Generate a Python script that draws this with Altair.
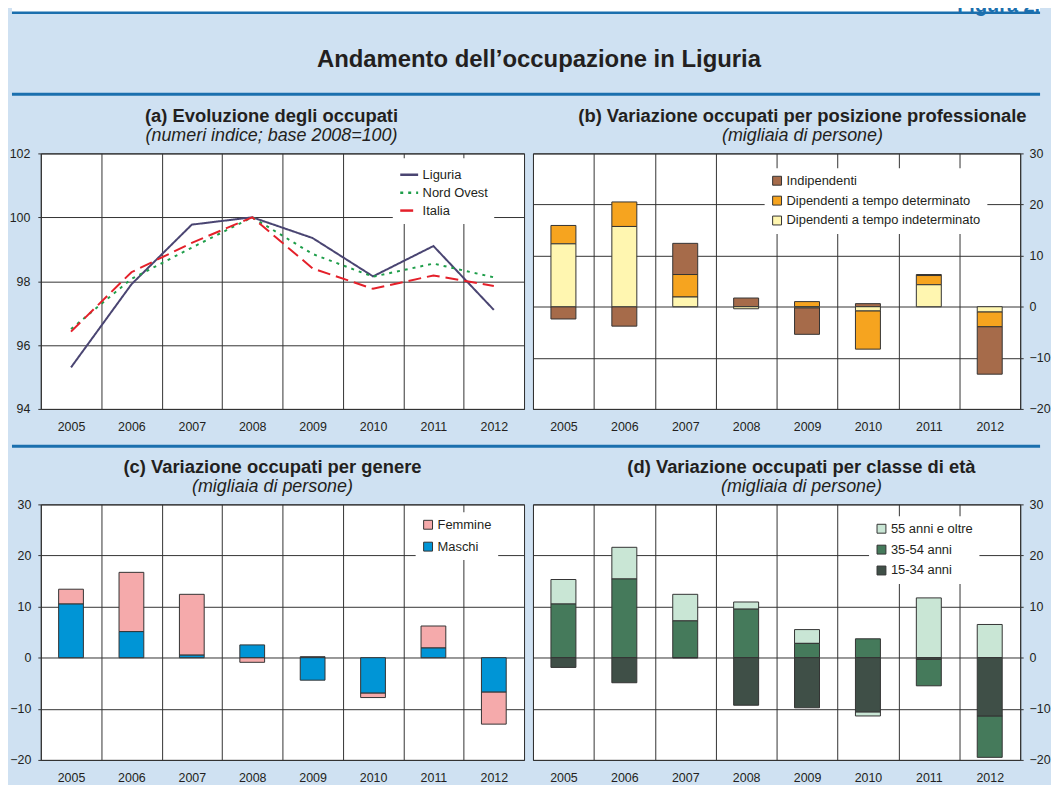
import altair as alt
import pandas as pd

# ---------------- data ----------------
years = ["2005", "2006", "2007", "2008", "2009", "2010", "2011", "2012"]

# (a) numeri indice, base 2008=100
serie_a = ["Liguria", "Nord Ovest", "Italia"]
liguria = [95.3, 97.9, 99.77, 100.0, 99.35, 98.15, 99.1, 97.1]
nord_ovest = [96.5, 98.07, 99.05, 100.0, 98.85, 98.14, 98.55, 98.12]
italia = [96.42, 98.28, 99.2, 100.0, 98.4, 97.76, 98.18, 97.85]

# (b) migliaia di persone
serie_b = ["Indipendenti", "Dipendenti a tempo determinato", "Dipendenti a tempo indeterminato"]
indipendenti = [-2.4, -3.8, 6.1, 1.7, -5.2, 0.6, 0.2, -9.3]
tempo_det = [3.6, 4.8, 4.4, 0.0, 1.0, -7.5, 1.8, -2.9]
tempo_indet = [12.3, 15.7, 1.9, -0.4, -0.2, -0.8, 4.3, -1.0]

# (c) migliaia di persone
serie_c = ["Femmine", "Maschi"]
femmine = [2.9, 11.6, 11.9, -0.9, 0.2, -0.9, 4.3, -6.3]
maschi = [10.5, 5.1, 0.5, 2.5, -4.4, -6.9, 1.9, -6.7]

# (d) migliaia di persone
serie_d = ["55 anni e oltre", "35-54 anni", "15-34 anni"]
eta_55 = [4.8, 6.2, 5.2, 1.4, 2.7, -0.8, 11.7, 6.5]
eta_35 = [10.5, 15.4, 7.2, 9.5, 2.8, 3.7, -5.2, -8.1]
eta_15 = [-1.9, -4.9, 0.0, -9.3, -9.8, -10.6, -0.3, -11.4]

y_ticks_a = [94, 96, 98, 100, 102]
y_ticks_var = [-20, -10, 0, 10, 20, 30]

main_title = "Andamento dell\u2019occupazione in Liguria"
figura = "Figura 2."
titles = [
    ("(a) Evoluzione degli occupati", "(numeri indice; base 2008=100)"),
    ("(b) Variazione occupati per posizione professionale", "(migliaia di persone)"),
    ("(c) Variazione occupati per genere", "(migliaia di persone)"),
    ("(d) Variazione occupati per classe di et\u00e0", "(migliaia di persone)"),
]

# ---------------- styles ----------------
FONT = "Liberation Sans"
TXT = "#231F20"
BG = "#CFE1F2"
BLUE = "#1B6FAE"
GRID = "#333333"
XL = -29      # left end of full-width decorations, relative to the panels' origin
XR = 1005     # right end of full-width decorations
PH = 257      # panel height
WL = 486      # left panels width
WR = 490      # right panels width

col_a = ["#4A4572", "#1E9E4A", "#E4202A"]
dash_a = [[1, 0], [3, 5], [13, 6]]
col_b = ["#A66B4A", "#F6A41F", "#FFF6B0"]
col_c = ["#F5AAAB", "#0095D6"]
col_d = ["#C9E6D5", "#457A5B", "#3F4F47"]


def long_df(cats, vals, order):
    rows = []
    for c, vs in zip(cats, vals):
        for yr, v in zip(years, vs):
            rows.append({"anno": yr, "serie": c, "valore": v, "ordine": order.index(c)})
    return pd.DataFrame(rows)


df_a = long_df(serie_a, [liguria, nord_ovest, italia], serie_a)
df_b = long_df(serie_b, [indipendenti, tempo_det, tempo_indet],
               ["Dipendenti a tempo indeterminato", "Dipendenti a tempo determinato", "Indipendenti"])
df_c = long_df(serie_c, [femmine, maschi], ["Maschi", "Femmine"])
df_d = long_df(serie_d, [eta_55, eta_35, eta_15], ["15-34 anni", "35-54 anni", "55 anni e oltre"])

x_scale = alt.Scale(type="band", domain=years, paddingInner=0, paddingOuter=0)


def x_axis():
    return alt.Axis(title=None, grid=True, gridColor=GRID, gridWidth=1, tickBand="extent",
                    ticks=False, domain=False, labelPadding=12, labelFontSize=12.5,
                    labelColor=TXT, labelFont=FONT, labelAngle=0)


def y_axis(values, orient, pad):
    return alt.Axis(title=None, values=values, orient=orient, grid=True, gridColor=GRID,
                    gridWidth=1, ticks=True, tickSize=3, tickColor=GRID, domain=False,
                    labelPadding=pad, labelFontSize=12.5, labelColor=TXT, labelFont=FONT)


def ptitle(i, dx, off):
    t, s = titles[i]
    return alt.TitleParams(text=t, subtitle=s, fontSize=18.5, fontWeight="bold", font=FONT,
                           color=TXT, subtitleFont=FONT, subtitleFontSize=18,
                           subtitleFontStyle="italic", subtitleColor=TXT, subtitlePadding=2,
                           offset=off, anchor="middle", dx=dx)


def legend(x, y, rowpad, stype, ssize, swidth, scolor=None):
    kw = dict(title=None, orient="none", legendX=x, legendY=y, fillColor="white", padding=6,
              labelFontSize=13, labelFont=FONT, labelColor=TXT, labelOffset=3,
              labelLimit=400, rowPadding=rowpad, symbolType=stype, symbolSize=ssize,
              symbolStrokeWidth=swidth, symbolOpacity=1)
    if scolor:
        kw["symbolStrokeColor"] = scolor
    return alt.Legend(**kw)


# ---------------- panel (a) ----------------
leg_a = legend(354, 5, 0, "stroke", 324, 2.5)
panel_a = alt.Chart(df_a).mark_line(strokeWidth=2).encode(
    x=alt.X("anno:O", scale=x_scale, axis=x_axis(), bandPosition=0.5),
    y=alt.Y("valore:Q", scale=alt.Scale(domain=[94, 102], nice=False, zero=False),
            axis=y_axis(y_ticks_a, "left", 8)),
    color=alt.Color("serie:N", scale=alt.Scale(domain=serie_a, range=col_a), legend=leg_a),
    strokeDash=alt.StrokeDash("serie:N", scale=alt.Scale(domain=serie_a, range=dash_a), legend=leg_a),
).properties(width=WL, height=PH, title=ptitle(0, -11, 2))


def bar_panel(df, cats, cols, orient, pad, leg, w, ti, dx, off):
    return alt.Chart(df).mark_bar(width=alt.RelativeBandSize(0.41), stroke="#333333",
                                  strokeWidth=1).encode(
        x=alt.X("anno:O", scale=x_scale, axis=x_axis()),
        y=alt.Y("valore:Q", stack="zero", scale=alt.Scale(domain=[-20, 30], nice=False),
                axis=y_axis(y_ticks_var, orient, pad)),
        color=alt.Color("serie:N", scale=alt.Scale(domain=cats, range=cols), legend=leg),
        order=alt.Order("ordine:Q", sort="ascending"),
    ).properties(width=w, height=PH, title=ptitle(ti, dx, off))


panel_b = bar_panel(df_b, serie_b, col_b, "right", 6,
                    legend(233, 15, 6, "square", 80, 1, "#333333"), WR, 1, 26, 2)
panel_c = bar_panel(df_c, serie_c, col_c, "left", 7,
                    legend(377, 8, 8, "square", 80, 1, "#333333"), WL, 2, -10, 2)
panel_d = bar_panel(df_d, serie_d, col_d, "right", 6,
                    legend(338, 12, 7, "square", 80, 1, "#333333"), WR, 3, 25, 2)

# ---------------- header & divider ----------------
one = pd.DataFrame({"k": [0]})
noview = alt.ViewBackground(fillOpacity=0, strokeOpacity=0, strokeWidth=0)

h_white = alt.Chart(one).mark_rect(color="white").encode(
    x=alt.value(XL), x2=alt.value(XR), y=alt.value(-30), y2=alt.value(6))
h_fig = alt.Chart(one).mark_text(align="right", baseline="alphabetic", fontSize=20,
                                 fontWeight="bold", color=BLUE, font=FONT).encode(
    x=alt.value(XR), y=alt.value(6), text=alt.value(figura))
h_rule1 = alt.Chart(one).mark_rule(color=BLUE, strokeWidth=2.5).encode(
    x=alt.value(XL), x2=alt.value(XR), y=alt.value(6.5))
h_title = alt.Chart(one).mark_text(align="center", baseline="middle", fontSize=24,
                                   fontWeight="bold", color=TXT, font=FONT).encode(
    x=alt.value(501), y=alt.value(54), text=alt.value(main_title))
h_rule2 = alt.Chart(one).mark_rule(color=BLUE, strokeWidth=3).encode(
    x=alt.value(XL), x2=alt.value(XR), y=alt.value(88.5))
header = alt.layer(h_white, h_rule1, h_fig, h_title, h_rule2).properties(
    width=1000, height=101, view=noview)

divider = alt.Chart(one).mark_rule(color=BLUE, strokeWidth=3).encode(
    x=alt.value(XL), x2=alt.value(XR), y=alt.value(12.5)).properties(
    width=1000, height=23.5, view=noview)

row1 = alt.hconcat(panel_a, panel_b, spacing=7).resolve_scale(
    color="independent", strokeDash="independent").resolve_legend(color="independent")
row2 = alt.hconcat(panel_c, panel_d, spacing=7).resolve_scale(
    color="independent").resolve_legend(color="independent")

chart = alt.vconcat(header, row1, divider, row2, spacing=0).resolve_scale(
    color="independent", strokeDash="independent").resolve_legend(
    color="independent", strokeDash="independent").configure(
    background=BG, padding={"left": 0, "top": -34, "right": 0, "bottom": -2}, font=FONT
).configure_view(fill="white", stroke="#222222", strokeWidth=1)

chart.save("out.html", embed_options={"renderer": "svg", "actions": False})
